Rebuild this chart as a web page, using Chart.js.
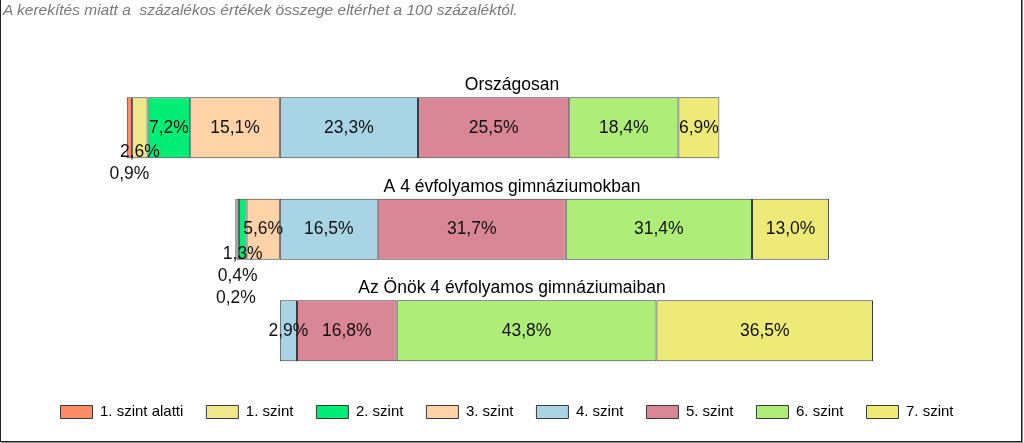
<!DOCTYPE html>
<html>
<head>
<meta charset="utf-8">
<script src="https://cdn.jsdelivr.net/npm/chart.js@4.4.1/dist/chart.umd.min.js"></script>
<style>
  html, body { margin: 0; padding: 0; background: #fff; overflow: hidden; }
  #wrap { position: relative; width: 1024px; height: 443px; }
  #frame { position: absolute; left: 0; top: -1px; width: 1020px; height: 441px; border: 1px solid #222; box-shadow: 1px 1px 0 #888; pointer-events: none; }
  #note { position: absolute; left: 3px; top: 1px; font: italic 15.5px "Liberation Sans", Arial, sans-serif; color: #7a7a7a; white-space: pre; }
  canvas { position: absolute; left: 0; top: 0; }
</style>
</head>
<body>
<div id="wrap">
  <canvas id="c" width="1024" height="443"></canvas>
  <div id="note">A kerekítés miatt a  százalékos értékek összege eltérhet a 100 százaléktól.</div>
  <div id="frame"></div>
</div>
<script>
// ---- data ----
const categories = ['Országosan', 'A 4 évfolyamos gimnáziumokban', 'Az Önök 4 évfolyamos gimnáziumaiban'];
const levelNames = ['1. szint alatti', '1. szint', '2. szint', '3. szint', '4. szint', '5. szint', '6. szint', '7. szint'];
const below1 = [0.9, 0.2, 0];
const level1 = [2.6, 0.4, 0];
const level2 = [7.2, 1.3, 0];
const level3 = [15.1, 5.6, 0];
const level4 = [23.3, 16.5, 2.9];
const level5 = [25.5, 31.7, 16.8];
const level6 = [18.4, 31.4, 43.8];
const level7 = [6.9, 13.0, 36.5];
const levelColors = ['#FF8C69', '#F0E68C', '#00EE76', '#FFD2A8', '#A8D4E6', '#D98797', '#AEEE78', '#EEEA78'];

const levelValues = [below1, level1, level2, level3, level4, level5, level6, level7];
const NEG_COUNT = 4; // levels below 4. szint go to the left of zero

// build floating segments [start, end]
function buildSegments() {
  const segs = levelValues.map(() => categories.map(() => null));
  categories.forEach((_, ci) => {
    let acc = 0;
    for (let li = NEG_COUNT - 1; li >= 0; li--) {
      const v = levelValues[li][ci];
      if (v > 0) { segs[li][ci] = [-(acc + v), -acc]; }
      acc += v;
    }
    acc = 0;
    for (let li = NEG_COUNT; li < levelValues.length; li++) {
      const v = levelValues[li][ci];
      if (v > 0) { segs[li][ci] = [acc, acc + v]; }
      acc += v;
    }
  });
  return segs;
}
const segments = buildSegments();

const FONT = '"Liberation Sans", Arial, sans-serif';

const labelPlugin = {
  id: 'segLabels',
  afterDatasetsDraw(chart) {
    const ctx = chart.ctx;
    const yScale = chart.scales.y;
    ctx.save();
    ctx.font = '17.5px ' + FONT;
    ctx.fillStyle = '#111';
    ctx.textAlign = 'center';
    ctx.textBaseline = 'middle';
    categories.forEach((cat, ci) => {
      const placed = [];
      const order = [];
      for (let li = NEG_COUNT - 1; li >= 0; li--) order.push(li);
      for (let li = NEG_COUNT; li < levelValues.length; li++) order.push(li);
      order.forEach(li => {
        const v = levelValues[li][ci];
        if (!(v > 0)) return;
        const el = chart.getDatasetMeta(li).data[ci];
        if (!el) return;
        const text = v.toFixed(1).replace('.', ',') + '%';
        const w = ctx.measureText(text).width;
        const cx = (el.x + el.base) / 2;
        const x0 = cx - w / 2, x1 = cx + w / 2;
        let level = 0;
        const margin = 4;
        while (placed.some(p => p.level === level && !(x1 + margin <= p.x0 || x0 >= p.x1 + margin))) level++;
        placed.push({ x0, x1, level });
        const yc = el.y + (level === 0 ? 0 : 24.5 + 22 * (level - 1));
        ctx.fillText(text, cx, yc);
      });
    });
    // category titles above each bar
    ctx.font = '17.5px ' + FONT;
    ctx.fillStyle = '#000';
    ctx.textBaseline = 'alphabetic';
    categories.forEach((cat, ci) => {
      const yc = yScale.getPixelForValue(ci);
      const step = Math.abs(yScale.getPixelForValue(1) - yScale.getPixelForValue(0));
      const top = yc - step * 0.6 / 2;
      ctx.fillText(cat, chart.width / 2, top - 7);
    });
    ctx.restore();
  }
};

const datasets = levelNames.map((name, li) => ({
  label: name,
  data: segments[li],
  backgroundColor: levelColors[li],
  borderColor: '#3a3a3a',
  borderWidth: 1,
  borderSkipped: false,
  categoryPercentage: 1.0,
  barPercentage: 0.6
}));

new Chart(document.getElementById('c'), {
  type: 'bar',
  data: { labels: categories, datasets },
  options: {
    indexAxis: 'y',
    responsive: false,
    animation: false,
    devicePixelRatio: 1,
    layout: { padding: { left: 20, right: 30, top: 77, bottom: 13.5 } },
    scales: {
      x: { display: false, min: -43.8, max: 120.4, stacked: false, grid: { display: false } },
      y: { display: false, stacked: true, grid: { display: false } }
    },
    plugins: {
      legend: {
        position: 'bottom',
        labels: {
          boxWidth: 32,
          boxHeight: 13,
          padding: 23,
          color: '#000',
          font: { family: FONT, size: 15 }
        }
      },
      tooltip: { enabled: false },
      title: { display: false }
    }
  },
  plugins: [labelPlugin]
});
</script>
</body>
</html>
